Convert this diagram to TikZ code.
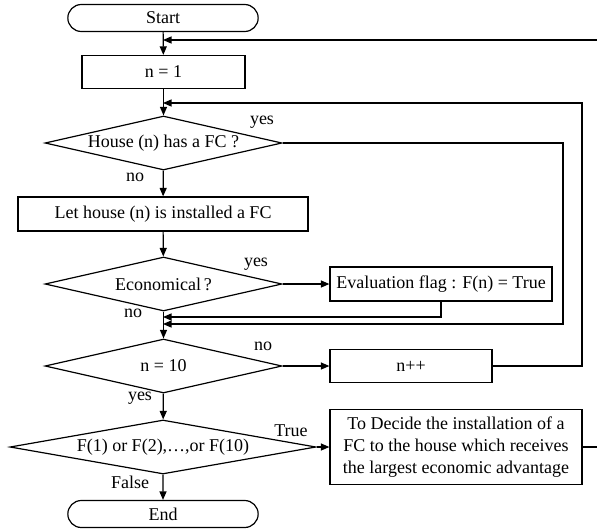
\documentclass[tikz,border=0pt]{standalone}
\usepackage{fontspec}
\setmainfont{Liberation Serif}
\usetikzlibrary{shapes.geometric, shapes.misc, arrows.meta}
\tikzset{
  box/.style  ={rectangle, draw, line width=1.2pt, inner sep=2pt, align=center},
  term/.style ={rounded rectangle, draw, line width=1.2pt, minimum width=197pt, minimum height=27pt},
  cond/.style ={diamond, draw, line width=1.2pt, inner sep=0pt, minimum height=54pt,
                minimum width=237pt, aspect=4.4},
  lbl/.style  ={inner sep=0pt},
  ar/.style   ={-{Triangle[length=8.5pt,width=7pt]}, line width=1.2pt},
  ln/.style   ={line width=1.2pt},
}

\begin{document}
\begin{tikzpicture}[x=1pt, y=-1pt, font=\fontsize{18}{21.7}\selectfont]
\useasboundingbox (0,0) rectangle (597,531);
\node[term] (st)  at (163,18)  {Start};
\node[box, minimum width=163pt, minimum height=33pt] (n1)  at (163.5,72) {n = 1};
\node[cond] (h)   at (163.5,143) {House (n) has a FC ?};
\node[box, minimum width=290pt, minimum height=34pt] (let) at (163,214) {Let house (n) is installed a FC};
\node[cond] (eco) at (163.5,284) {Economical\,?};
\node[box, minimum width=222pt, minimum height=34pt] (ev)  at (441,284) {Evaluation flag : F(n) = True};
\node[cond] (n10) at (163.5,366) {n = 10};
\node[box, minimum width=162pt, minimum height=33pt] (pp)  at (411,366) {n++};
\node[cond, minimum width=306pt, aspect=5.6] (fs) at (163,447) {F(1) or F(2),\ldots,or F(10)};
\node[box, minimum width=252pt, minimum height=75pt] (dc) at (456,447)
  {To Decide the installation of a\\FC to the house which receives\\the largest economic advantage};
\node[term] (en)  at (163,514) {End};
% labels
\node[lbl] (l1) at (262,122) {yes};
\node[lbl] (l2) at (135,177) {no};
\node[lbl] (l3) at (256,264) {yes};
\node[lbl] (l4) at (133,313) {no};
\node[lbl] (l5) at (263,346) {no};
\node[lbl] (l6) at (140,398) {yes};
\node[lbl] (l7) at (291,431) {True};
\node[lbl] (l8) at (130,482) {False};
% junctions on the main line
\coordinate (j1) at (163,40);
\coordinate (j2) at (163,103);
\coordinate (j3) at (163,317);
\coordinate (j4) at (163,324);
\coordinate (r1) at (597,40);
\coordinate (r2) at (597,447);
\draw[ar] (st)--(n1); \draw[ar] (n1)--(h); \draw[ar] (h)--(let); \draw[ar] (let)--(eco);
\draw[ar] (eco)--(n10); \draw[ar] (n10)--(fs); \draw[ar] (fs)--(en);
\draw[ar] (eco)--(ev); \draw[ar] (n10)--(pp); \draw[ar] (fs)--(dc);
\draw[ar] (r1)--(j1);
\draw[ar] (pp.east) -- (582,366) |- (j2);
\draw[ar] (h.east) -- (563,143) |- (j4);
\draw[ar] (ev.south) |- (j3);
\draw[ln] (dc.east)--(r2);
\end{tikzpicture}
\end{document}
